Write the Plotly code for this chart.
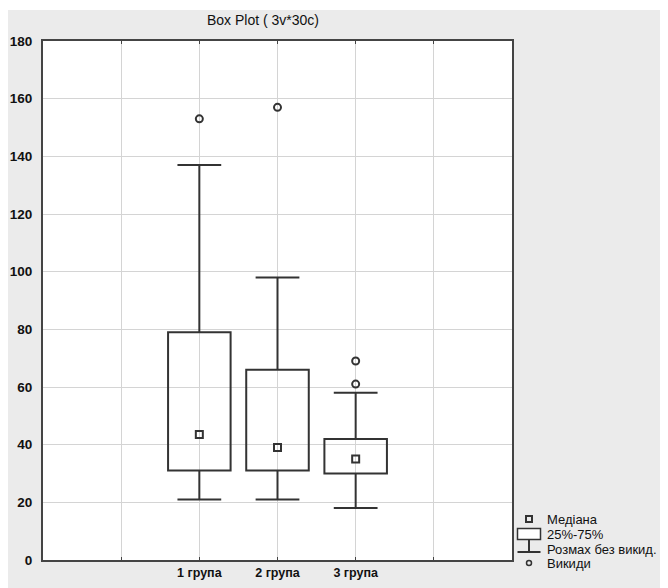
import plotly.graph_objects as go

# ---- data ----
groups = ["1 група", "2 група", "3 група"]
q1 = [31, 31, 30]
median = [43.5, 39, 35]
q3 = [79, 66, 42]
whisker_low = [21, 21, 18]
whisker_high = [137, 98, 58]
outliers = [[153], [157], [61, 69]]
y_ticks = [0, 20, 40, 60, 80, 100, 120, 140, 160, 180]
legend_labels = ["Медіана", "25%-75%", "Розмах без викид.", "Викиди"]
title_text = "Box Plot ( 3v*30c)"

# ---- layout constants (figure sits 8px inside the page because of body margin) ----
W, H = 660, 580
ML, MR, MT, MB = 35, 156, 33, 28
PW, PH = W - ML - MR, H - MT - MB
positions = [2, 3, 4]
BOX_HALF = 0.40
CAP_HALF = 0.28
DARK = "#333333"
FONT = "Liberation Sans, Arial, sans-serif"

fig = go.Figure()
shapes = []

# boxes
for x, a, b in zip(positions, q1, q3):
    shapes.append(dict(type="rect", xref="x", yref="y", x0=x - BOX_HALF, x1=x + BOX_HALF,
                       y0=a, y1=b, line=dict(color=DARK, width=2), fillcolor="rgba(0,0,0,0)",
                       layer="above"))

# whiskers
wx, wy = [], []
for x, a, b, lo, hi in zip(positions, q1, q3, whisker_low, whisker_high):
    wx += [x, x, None, x - CAP_HALF, x + CAP_HALF, None, x, x, None, x - CAP_HALF, x + CAP_HALF, None]
    wy += [b, hi, None, hi, hi, None, a, lo, None, lo, lo, None]
fig.add_trace(go.Scatter(x=wx, y=wy, mode="lines", line=dict(color=DARK, width=2),
                         showlegend=False, hoverinfo="skip"))

# medians
fig.add_trace(go.Scatter(x=positions, y=median, mode="markers",
                         marker=dict(symbol="square-open", size=7, color=DARK, line=dict(width=2)),
                         showlegend=False))

# outliers
ox, oy = [], []
for x, vals in zip(positions, outliers):
    for v in vals:
        ox.append(x)
        oy.append(v)
fig.add_trace(go.Scatter(x=ox, y=oy, mode="markers",
                         marker=dict(symbol="circle-open", size=7, color=DARK, line=dict(width=2)),
                         showlegend=False))

# thin white strip at the top of the page
shapes.append(dict(type="rect", xref="paper", yref="paper", x0=-ML / PW, x1=1 + MR / PW,
                   y0=1 + (MT - 2) / PH, y1=1 + MT / PH, fillcolor="white", line=dict(width=0),
                   layer="below"))

# ---- custom legend (paper coords) ----
def px(xp):
    return (xp - ML) / PW

def py(yp):
    return (H - MB - yp) / PH

leg_y = [511, 526, 541, 555]
cx = 521
# median square
shapes.append(dict(type="rect", xref="paper", yref="paper", x0=px(cx - 3), x1=px(cx + 3),
                   y0=py(leg_y[0] + 3), y1=py(leg_y[0] - 3), line=dict(color=DARK, width=2)))
# box
shapes.append(dict(type="rect", xref="paper", yref="paper", x0=px(cx - 11.5), x1=px(cx + 11.5),
                   y0=py(leg_y[1] + 5.5), y1=py(leg_y[1] - 5.5), line=dict(color=DARK, width=1.5),
                   fillcolor="white"))
# whisker
shapes.append(dict(type="line", xref="paper", yref="paper", x0=px(cx), x1=px(cx),
                   y0=py(leg_y[1] + 5.5), y1=py(leg_y[2] + 3), line=dict(color=DARK, width=2)))
shapes.append(dict(type="line", xref="paper", yref="paper", x0=px(cx - 11.5), x1=px(cx + 11.5),
                   y0=py(leg_y[2] + 3), y1=py(leg_y[2] + 3), line=dict(color=DARK, width=2)))
# outlier circle
shapes.append(dict(type="circle", xref="paper", yref="paper", x0=px(cx - 2.5), x1=px(cx + 2.5),
                   y0=py(leg_y[3] + 2.5), y1=py(leg_y[3] - 2.5), line=dict(color=DARK, width=1.5)))

annotations = []
for lab, yy in zip(legend_labels, leg_y):
    annotations.append(dict(text=lab, xref="paper", yref="paper", x=px(537), y=py(yy),
                            xanchor="left", yanchor="middle", showarrow=False,
                            font=dict(family=FONT, size=13, color="#111111")))

fig.update_layout(
    width=W, height=H,
    margin=dict(l=ML, r=MR, t=MT, b=MB, pad=0, autoexpand=False),
    paper_bgcolor="#ebebeb", plot_bgcolor="white",
    title=dict(text=title_text, x=255 / W, xanchor="center", y=1 - 12 / H, yanchor="middle",
               font=dict(family=FONT, size=14, color="#111111")),
    shapes=shapes, annotations=annotations,
    showlegend=False,
    font=dict(family=FONT, size=12, color="#111111"),
)
fig.update_xaxes(range=[0, 6], tickvals=[1, 2, 3, 4, 5],
                 ticktext=[""] + ["<b>%s</b>" % g for g in groups] + [""],
                 showgrid=True, gridcolor="#d4d4d4", gridwidth=1, zeroline=False,
                 showline=True, linecolor="#444444", linewidth=2, mirror="ticks",
                 ticks="inside", ticklen=3, tickcolor="#444444", automargin=False,
                 tickfont=dict(family=FONT, size=12.5, color="#111111"))
fig.update_yaxes(range=[0, 180], tickvals=y_ticks, ticktext=["<b>%d</b>" % v for v in y_ticks],
                 showgrid=True, gridcolor="#d4d4d4", gridwidth=1, zeroline=False,
                 showline=True, linecolor="#444444", linewidth=2, mirror=True,
                 ticks="", ticklabelstandoff=6, automargin=False,
                 tickfont=dict(family=FONT, size=13.5, color="#111111"))

fig.write_html("out.html")
